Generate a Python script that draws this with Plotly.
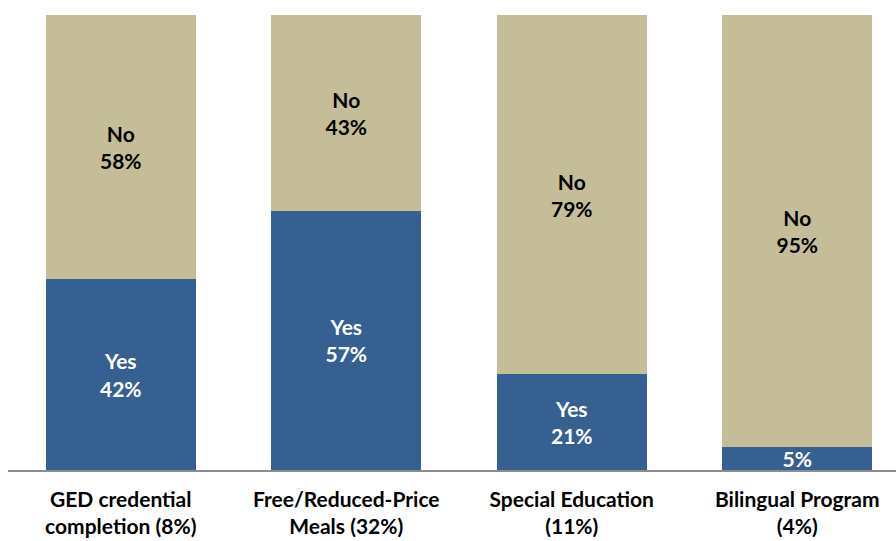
import plotly.graph_objects as go

categories = ["GED credential<br>completion (8%)", "Free/Reduced-Price<br>Meals (32%)",
              "Special Education<br>(11%)", "Bilingual Program<br>(4%)"]
yes_values = [42, 57, 21, 5]
no_values = [58, 43, 79, 95]
yes_labels = ["Yes<br>42%", "Yes<br>57%", "Yes<br>21%", "5%"]
no_labels = ["No<br>58%", "No<br>43%", "No<br>79%", "No<br>95%"]

FONT = "Lato"
x = list(range(len(categories)))

fig = go.Figure()
fig.add_trace(go.Bar(
    x=x, y=yes_values, name="Yes", marker=dict(color="#376092", line=dict(width=0)),
    text=yes_labels, textposition="inside", insidetextanchor="middle",
    constraintext="none",
    textfont=dict(family=FONT, size=21, color="white", weight="bold"),
    width=0.665,
))
fig.add_trace(go.Bar(
    x=x, y=no_values, name="No", marker=dict(color="#C4BD97", line=dict(width=0)),
    text=no_labels, textposition="inside", insidetextanchor="middle",
    constraintext="none",
    textfont=dict(family=FONT, size=21, color="black", weight="bold"),
    width=0.665,
))

fig.update_layout(
    barmode="stack",
    width=896, height=541,
    margin=dict(l=8, r=0, t=15, b=71),
    plot_bgcolor="white", paper_bgcolor="white",
    showlegend=False,
    font=dict(family=FONT),
    xaxis=dict(
        tickmode="array", tickvals=x, ticktext=categories,
        range=[-0.5, 3.438],
        showline=True, linecolor="#8c8c8c", linewidth=1.5,
        ticks="", showgrid=False, zeroline=False,
        tickfont=dict(family=FONT, size=21, color="black", weight="bold"),
        ticklabelstandoff=10,
    ),
    yaxis=dict(range=[0, 100], visible=False, showgrid=False, zeroline=False),
)

fig.write_html("out.html")
